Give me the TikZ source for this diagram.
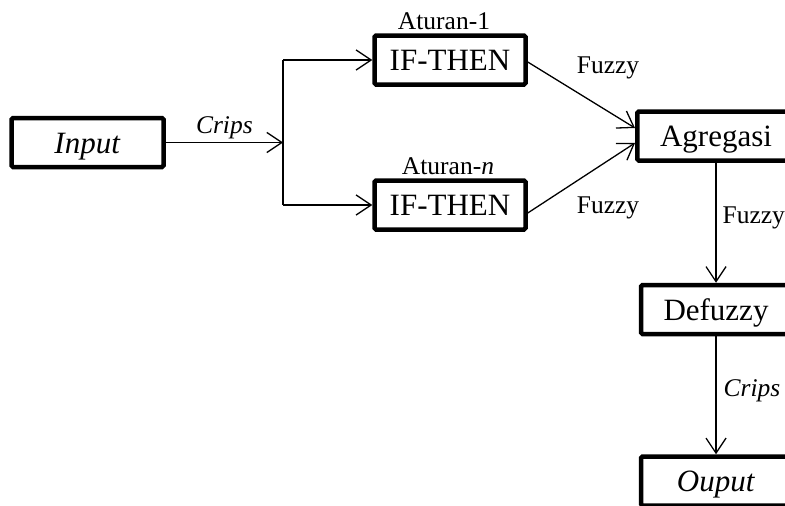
\documentclass[tikz,border=0pt]{standalone}
\usepackage{fontspec}
\setmainfont{Liberation Serif}
\usetikzlibrary{arrows.meta,positioning}
\tikzset{
  box/.style ={draw, line width=4.5pt, rounded corners=1.5pt, inner sep=0pt, minimum height=49pt,
               text height=21pt, text depth=0pt, font=\fontsize{31}{36}\selectfont},
  lbl/.style ={inner sep=1pt, font=\fontsize{25.5}{30}\selectfont},
  arr/.style ={-{Straight Barb[length=15pt,width=20pt]}, line width=1.3pt},
  wire/.style={line width=1.3pt},
}
\begin{document}
\begin{tikzpicture}[x=1pt,y=-1pt]
  \useasboundingbox (0,0) rectangle (785,506);
  % input splits into the rules
  \node[box, minimum width=152pt] (inp)   at (87.5,142.5) {\textit{Input}};
  \coordinate (split) at (283,142.5);
  \node[box, minimum width=151pt] (then1) at (450,60)  {IF-THEN};
  \node[box, minimum width=151pt] (thenn) at (450,205) {IF-THEN};
  \node[lbl, above=2pt of then1, xshift=-6pt] (rule1) {Aturan-1};
  \node[lbl, above=2pt of thenn, xshift=-2pt] (rulen) {Aturan-\textit{n}};

  \draw[arr] (inp) -- node[lbl, above=2pt] (crisp1) {\textit{Crips}} (split);
  \draw[wire] (split |- then1) -- (split |- thenn);
  \draw[arr] (split |- then1) -- (then1);
  \draw[arr] (split |- thenn) -- (thenn);

  % right column: aggregation, defuzzification, output
  \node[box, minimum width=157.5pt] (agr)  at (716,136)   {Agregasi};
  \node[box, minimum width=150pt]   (defz) at (716,309.5) {Defuzzy};
  \node[box, minimum width=150pt]   (outp) at (716,481)   {\textit{Ouput}};

  \draw[arr] ([yshift=-2pt]then1.east) -- ([yshift=8pt]agr.west);
  \draw[arr] ([yshift=-8pt]thenn.east) -- ([yshift=-7pt]agr.west);
  \node[lbl] (fuzzy1) at (608,68)  {Fuzzy};
  \node[lbl] (fuzzy2) at (608,208) {Fuzzy};
  \draw[arr] (agr)  -- node[lbl, pos=0.46, right=5pt] (fuzzy3) {Fuzzy} (defz);
  \draw[arr] (defz) -- node[lbl, pos=0.46, right=6pt] (crisp2) {\textit{Crips}} (outp);
\end{tikzpicture}
\end{document}
